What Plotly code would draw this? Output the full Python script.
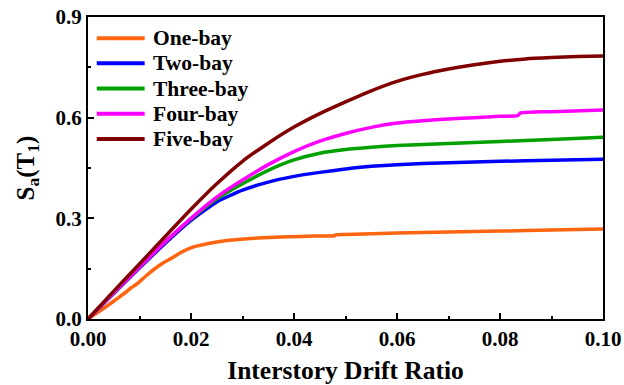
import plotly.graph_objects as go

# Interstory drift ratio vs spectral acceleration for frames with 1-5 bays
one_x = [0.0, 0.0025, 0.0049, 0.0070, 0.0084, 0.0090, 0.0097, 0.0113, 0.0129, 0.0145, 0.0162,
         0.0178, 0.0194, 0.0210, 0.0227, 0.0260, 0.0291, 0.0340, 0.0388, 0.0440, 0.0478, 0.0482,
         0.0500, 0.0600, 0.0700, 0.0800, 0.0900, 0.1000]
one_y = [0.0, 0.026, 0.052, 0.076, 0.093, 0.099, 0.107, 0.129, 0.149, 0.166, 0.181,
         0.196, 0.208, 0.217, 0.223, 0.232, 0.237, 0.242, 0.245, 0.247, 0.248, 0.251,
         0.252, 0.256, 0.259, 0.262, 0.265, 0.268]

two_x = [0.0, 0.005, 0.010, 0.015, 0.020, 0.025, 0.030, 0.035, 0.040, 0.045, 0.050,
         0.055, 0.060, 0.070, 0.080, 0.090, 0.100]
two_y = [0.0, 0.076, 0.152, 0.226, 0.294, 0.349, 0.384, 0.408, 0.425, 0.437, 0.447,
         0.455, 0.460, 0.466, 0.470, 0.473, 0.476]

three_x = [0.0, 0.005, 0.010, 0.015, 0.020, 0.025, 0.030, 0.035, 0.040, 0.045, 0.050, 0.055,
           0.060, 0.070, 0.080, 0.090, 0.100]
three_y = [0.0, 0.078, 0.155, 0.230, 0.298, 0.358, 0.403, 0.443, 0.474, 0.494, 0.505, 0.512,
           0.517, 0.523, 0.529, 0.535, 0.542]

four_x = [0.0, 0.005, 0.010, 0.015, 0.020, 0.025, 0.030, 0.035, 0.040, 0.045, 0.050, 0.055,
          0.060, 0.065, 0.070, 0.075, 0.080, 0.0834, 0.0840, 0.090, 0.100]
four_y = [0.0, 0.078, 0.155, 0.230, 0.300, 0.363, 0.414, 0.460, 0.499, 0.530, 0.553, 0.571,
          0.584, 0.591, 0.596, 0.600, 0.604, 0.606, 0.614, 0.618, 0.623]

five_x = [0.0, 0.005, 0.010, 0.015, 0.020, 0.025, 0.030, 0.035, 0.040, 0.045, 0.050, 0.055,
          0.060, 0.065, 0.070, 0.075, 0.080, 0.085, 0.090, 0.095, 0.100]
five_y = [0.0, 0.083, 0.164, 0.246, 0.327, 0.403, 0.470, 0.524, 0.572, 0.612, 0.647, 0.680,
          0.708, 0.729, 0.745, 0.758, 0.768, 0.775, 0.779, 0.782, 0.784]

names = ["One-bay", "Two-bay", "Three-bay", "Four-bay", "Five-bay"]
xs_all = [one_x, two_x, three_x, four_x, five_x]
ys_all = [one_y, two_y, three_y, four_y, five_y]
colors = ["#FF6410", "#0000FF", "#00A000", "#FF00FF", "#800000"]

FONT = "'Liberation Serif', 'Times New Roman', 'DejaVu Serif', serif"
BLACK = "black"

fig = go.Figure()
for name, xs, ys, color in zip(names, xs_all, ys_all, colors):
    fig.add_trace(go.Scatter(
        x=xs, y=ys, mode="lines", name=name, showlegend=False,
        line=dict(color=color, width=3.5, shape="spline", smoothing=0.5),
    ))

# Legend block in the upper-left corner: a short line sample and a label per series
leg_x0, leg_x1, leg_text_x = 0.017, 0.110, 0.123
leg_top, leg_step = 0.930, 0.0835
for i, (name, color) in enumerate(zip(names, colors)):
    yy = leg_top - i * leg_step
    fig.add_shape(type="line", xref="paper", yref="paper",
                  x0=leg_x0, x1=leg_x1, y0=yy, y1=yy,
                  line=dict(color=color, width=4))
    fig.add_annotation(xref="paper", yref="paper", x=leg_text_x, y=yy,
                       xanchor="left", yanchor="middle", showarrow=False,
                       text=name,
                       font=dict(family=FONT, size=21.5, color=BLACK, weight="bold"))

axis_common = dict(
    showline=True, linecolor=BLACK, linewidth=2, mirror=True,
    ticks="inside", ticklen=6, tickwidth=2, tickcolor=BLACK,
    showgrid=False, zeroline=False, automargin=False,
    tickfont=dict(family=FONT, size=21, color=BLACK, weight="bold"),
)

fig.update_xaxes(
    range=[0, 0.1], dtick=0.02, tickformat=".2f",
    minor=dict(ticks="inside", ticklen=3, tickwidth=2, tickcolor=BLACK, dtick=0.01),
    title=dict(text="Interstory Drift Ratio", standoff=18,
               font=dict(family=FONT, size=25.5, color=BLACK, weight="bold")),
    **axis_common,
)
fig.update_yaxes(
    range=[0, 0.9], dtick=0.3, tickformat=".1f",
    minor=dict(ticks="inside", ticklen=3, tickwidth=2, tickcolor=BLACK, dtick=0.15),
    title=dict(text="S<sub>a</sub>(T<sub>1</sub>)", standoff=14,
               font=dict(family=FONT, size=25, color=BLACK, weight="bold")),
    **axis_common,
)

fig.update_layout(
    width=624, height=385,
    margin=dict(l=88, r=21, t=17, b=66),
    plot_bgcolor="white", paper_bgcolor="white",
    showlegend=False,
)

fig.write_html("out.html")
